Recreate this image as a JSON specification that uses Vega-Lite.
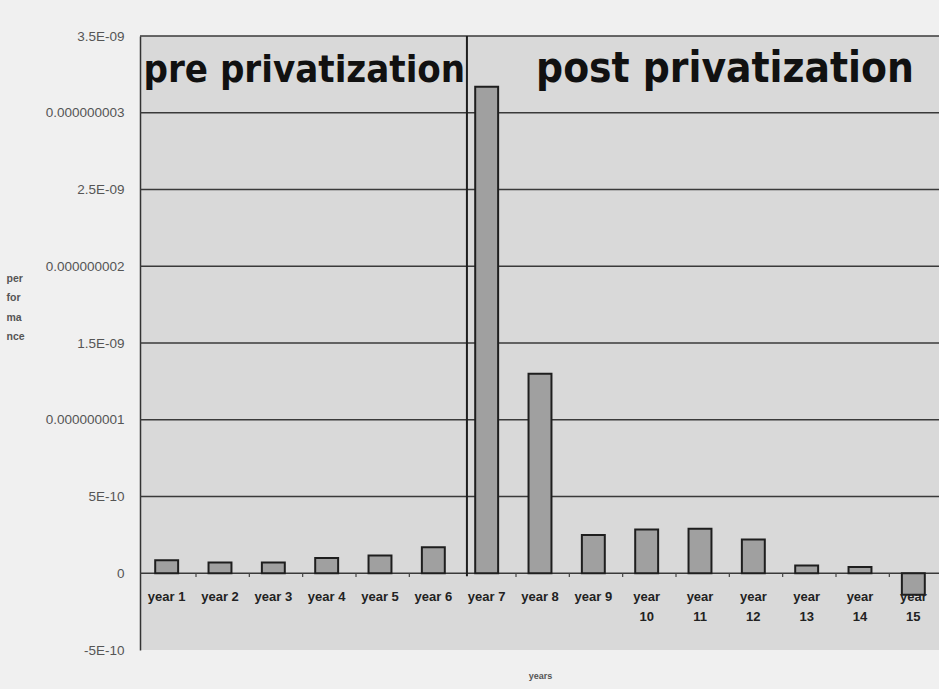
{
  "$schema": "https://vega.github.io/schema/vega-lite/v6.json",
  "autosize": {"type": "none"},
  "width": 800,
  "height": 614,
  "padding": {"left": 140, "top": 36, "right": 0, "bottom": 39},
  "background": "#f0f0f0",
  "config": {
    "view": {"fill": "#d9d9d9", "stroke": null},
    "font": "Liberation Sans"
  },
  "layer": [
    {
      "data": {"values": [
        {"level": 0}, {"level": 5e-10}, {"level": 1e-9}, {"level": 1.5e-9},
        {"level": 2e-9}, {"level": 2.5e-9}, {"level": 3e-9}, {"level": 3.5e-9}
      ]},
      "mark": {"type": "rule", "color": "#3a3a3a", "strokeWidth": 1.4},
      "encoding": {
        "y": {
          "field": "level",
          "type": "quantitative",
          "scale": {"domain": [-5e-10, 3.5e-9], "nice": false},
          "axis": {
            "title": ["per", "for", "ma", "nce"],
            "titleAngle": 0,
            "titleAlign": "left",
            "titleBaseline": "top",
            "titleX": -134,
            "titleY": 237,
            "titleFontSize": 10.5,
            "titleFontWeight": "bold",
            "titleColor": "#555",
            "titleLineHeight": 19.5,
            "values": [-5e-10, 0, 5e-10, 1e-9, 1.5e-9, 2e-9, 2.5e-9, 3e-9, 3.5e-9],
            "labelExpr": "datum.value > 0.0000000034 ? '3.5E-09' : datum.value > 0.0000000029 ? '0.000000003' : datum.value > 0.0000000024 ? '2.5E-09' : datum.value > 0.0000000019 ? '0.000000002' : datum.value > 0.0000000014 ? '1.5E-09' : datum.value > 0.0000000009 ? '0.000000001' : datum.value > 0.0000000004 ? '5E-10' : datum.value > -0.0000000001 ? '0' : '-5E-10'",
            "labelFontSize": 13.5,
            "labelColor": "#555",
            "labelPadding": 16,
            "ticks": false,
            "grid": false,
            "domainColor": "#333",
            "domainWidth": 1.5
          }
        }
      }
    },
    {
      "data": {"values": [
        {"year": "year 1", "performance": 0.84e-10},
        {"year": "year 2", "performance": 0.7e-10},
        {"year": "year 3", "performance": 0.7e-10},
        {"year": "year 4", "performance": 1.0e-10},
        {"year": "year 5", "performance": 1.15e-10},
        {"year": "year 6", "performance": 1.7e-10},
        {"year": "year 7", "performance": 31.7e-10},
        {"year": "year 8", "performance": 13.0e-10},
        {"year": "year 9", "performance": 2.5e-10},
        {"year": "year 10", "performance": 2.85e-10},
        {"year": "year 11", "performance": 2.9e-10},
        {"year": "year 12", "performance": 2.2e-10},
        {"year": "year 13", "performance": 0.5e-10},
        {"year": "year 14", "performance": 0.4e-10},
        {"year": "year 15", "performance": -1.4e-10}
      ]},
      "mark": {"type": "bar", "width": {"band": 0.43}, "fill": "#a0a0a0", "stroke": "#1e1e1e", "strokeWidth": 2},
      "encoding": {
        "x": {
          "field": "year",
          "type": "nominal",
          "sort": ["year 1","year 2","year 3","year 4","year 5","year 6","year 7","year 8","year 9","year 10","year 11","year 12","year 13","year 14","year 15"],
          "scale": {"paddingInner": 0, "paddingOuter": 0},
          "axis": {
            "title": "years",
            "titleFontSize": 9,
            "titleFontWeight": "bold",
            "titleColor": "#555",
            "titleX": 400,
            "titleY": 25,
            "titleBaseline": "middle",
            "labels": false,
            "ticks": false,
            "domain": false,
            "grid": false
          }
        },
        "y": {"field": "performance", "type": "quantitative", "stack": null}
      }
    },
    {
      "data": {"values": [
        {"year": "year 2", "top": 0, "bottom": -0.25e-10},
        {"year": "year 3", "top": 0, "bottom": -0.25e-10},
        {"year": "year 4", "top": 0, "bottom": -0.25e-10},
        {"year": "year 5", "top": 0, "bottom": -0.25e-10},
        {"year": "year 6", "top": 0, "bottom": -0.25e-10},
        {"year": "year 8", "top": 0, "bottom": -0.25e-10},
        {"year": "year 9", "top": 0, "bottom": -0.25e-10},
        {"year": "year 10", "top": 0, "bottom": -0.25e-10},
        {"year": "year 11", "top": 0, "bottom": -0.25e-10},
        {"year": "year 12", "top": 0, "bottom": -0.25e-10},
        {"year": "year 13", "top": 0, "bottom": -0.25e-10},
        {"year": "year 14", "top": 0, "bottom": -0.25e-10},
        {"year": "year 15", "top": 0, "bottom": -0.25e-10}
      ]},
      "mark": {"type": "rule", "color": "#444", "strokeWidth": 1.2},
      "encoding": {
        "x": {"field": "year", "type": "nominal", "sort": null, "bandPosition": 0.05},
        "y": {"field": "top", "type": "quantitative"},
        "y2": {"field": "bottom"}
      }
    },
    {
      "data": {"values": [{"year": "year 7", "top": 3.5e-9, "bottom": -0.2e-10}]},
      "mark": {"type": "rule", "color": "#1e1e1e", "strokeWidth": 2},
      "encoding": {
        "x": {"field": "year", "type": "nominal", "sort": null, "bandPosition": 0.13},
        "y": {"field": "top", "type": "quantitative"},
        "y2": {"field": "bottom"}
      }
    },
    {
      "data": {"values": [
        {"year": "year 1", "label": "year 1", "at": 0},
        {"year": "year 2", "label": "year 2", "at": 0},
        {"year": "year 3", "label": "year 3", "at": 0},
        {"year": "year 4", "label": "year 4", "at": 0},
        {"year": "year 5", "label": "year 5", "at": 0},
        {"year": "year 6", "label": "year 6", "at": 0},
        {"year": "year 7", "label": "year 7", "at": 0},
        {"year": "year 8", "label": "year 8", "at": 0},
        {"year": "year 9", "label": "year 9", "at": 0},
        {"year": "year 10", "label": "year|10", "at": 0},
        {"year": "year 11", "label": "year|11", "at": 0},
        {"year": "year 12", "label": "year|12", "at": 0},
        {"year": "year 13", "label": "year|13", "at": 0},
        {"year": "year 14", "label": "year|14", "at": 0},
        {"year": "year 15", "label": "year|15", "at": 0}
      ]},
      "mark": {"type": "text", "fontSize": 13, "fontWeight": "bold", "color": "#222", "baseline": "top", "align": "center", "dy": 18, "lineBreak": "|", "lineHeight": 20},
      "encoding": {
        "x": {"field": "year", "type": "nominal", "sort": null},
        "y": {"field": "at", "type": "quantitative"},
        "text": {"field": "label"}
      }
    },
    {
      "data": {"values": [
        {"year": "year 3", "label": "pre privatization", "performance": 3.2e-9}
      ]},
      "mark": {"type": "text", "font": "DejaVu Sans Condensed", "fontWeight": "bold", "fontSize": 38, "color": "#111", "baseline": "alphabetic", "align": "center", "dx": 31},
      "encoding": {
        "x": {"field": "year", "type": "nominal", "sort": null},
        "y": {"field": "performance", "type": "quantitative"},
        "text": {"field": "label"}
      }
    },
    {
      "data": {"values": [
        {"year": "year 11", "label": "post privatization", "performance": 3.2e-9}
      ]},
      "mark": {"type": "text", "font": "DejaVu Sans Condensed", "fontWeight": "bold", "fontSize": 42, "color": "#111", "baseline": "alphabetic", "align": "center", "dx": 25},
      "encoding": {
        "x": {"field": "year", "type": "nominal", "sort": null},
        "y": {"field": "performance", "type": "quantitative"},
        "text": {"field": "label"}
      }
    }
  ]
}
